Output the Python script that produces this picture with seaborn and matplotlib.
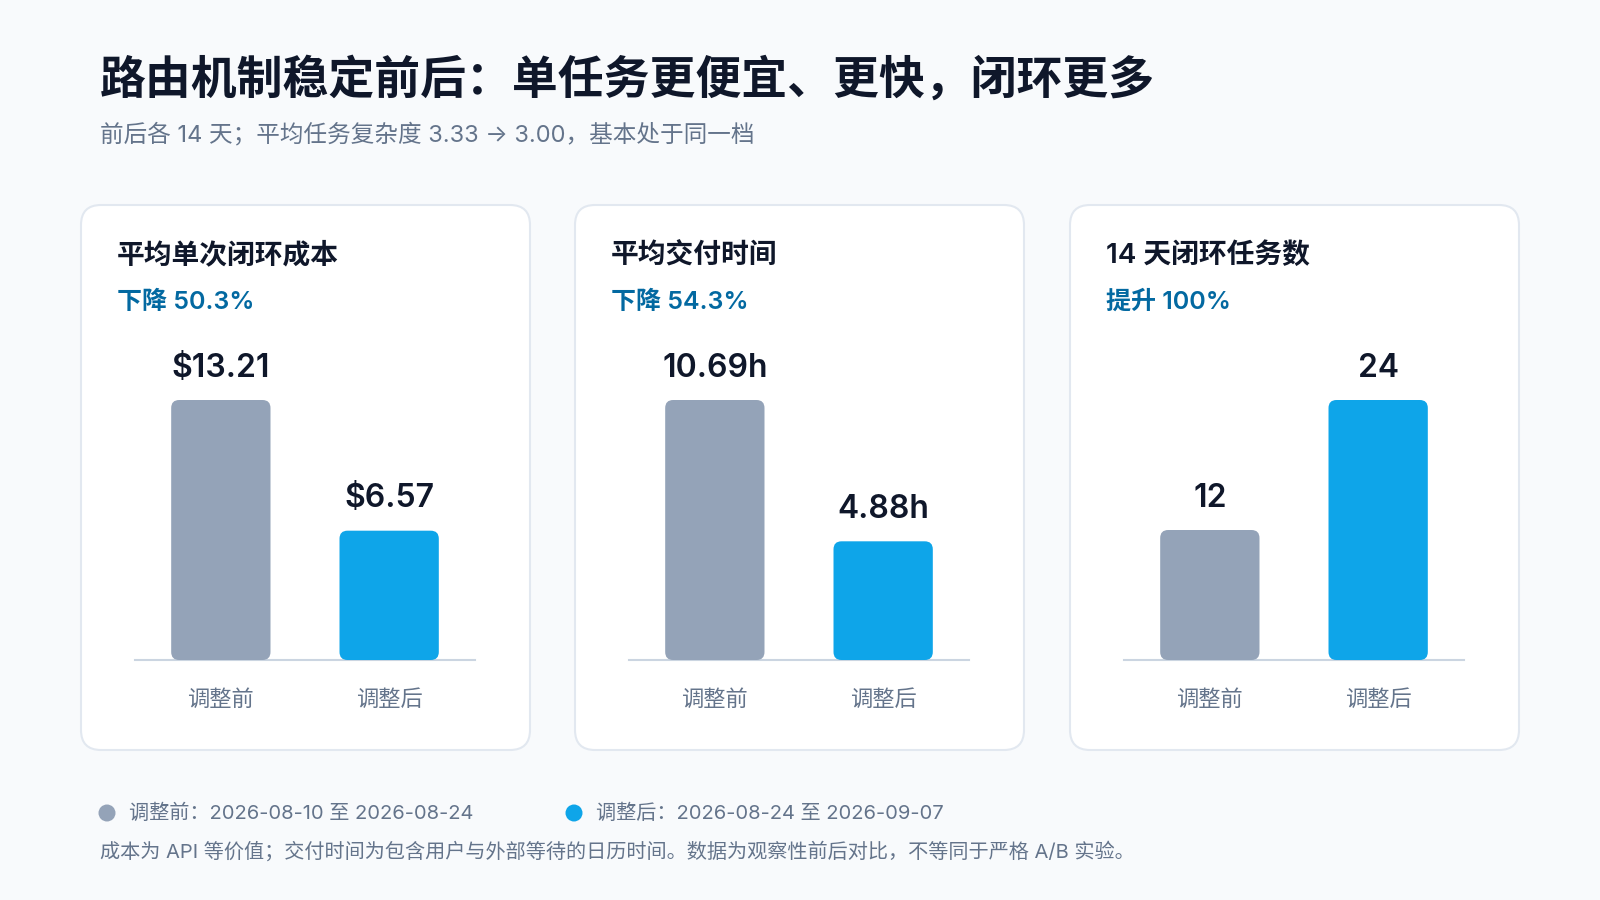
import numpy as np
import pandas as pd
import matplotlib
matplotlib.use("Agg")
import matplotlib.pyplot as plt
import seaborn as sns
from matplotlib.patches import FancyBboxPatch, Circle

# data
metrics = ["平均单次闭环成本", "平均交付时间", "14 天闭环任务数"]
changes = ["下降 50.3%", "下降 54.3%", "提升 100%"]
phases = ["调整前", "调整后"]
before = [13.21, 10.69, 12]
after = [6.57, 4.88, 24]
value_fmt = ["${:.2f}", "{:.2f}h", "{:.0f}"]

title = "路由机制稳定前后：单任务更便宜、更快，闭环更多"
subtitle = "前后各 14 天；平均任务复杂度 3.33 → 3.00，基本处于同一档"
legend_texts = ["调整前：2026-08-10 至 2026-08-24", "调整后：2026-08-24 至 2026-09-07"]
footnote = "成本为 API 等价值；交付时间为包含用户与外部等待的日历时间。数据为观察性前后对比，不等同于严格 A/B 实验。"

BG = "#f8fafc"
DARK = "#0f172a"
MUTED = "#64748b"
ACCENT = "#0369a1"
pal = ["#94a3b8", "#0ea5e9"]

sns.set_theme(style="white")
plt.rcParams["font.family"] = ["Inter", "Noto Sans CJK SC", "DejaVu Sans"]

W, H = 1600, 900
fig = plt.figure(figsize=(16, 9), dpi=100, facecolor=BG)


def px(x, y):
    # pixel (from top-left) -> figure fraction
    return x / W, 1 - y / H


fig.text(*px(100, 80), title, fontsize=33, fontweight="bold", color=DARK, va="center")
fig.text(*px(100, 135), subtitle, fontsize=17, color=MUTED, va="center")

card_left = [81, 575, 1070]
card_w, card_top, card_bot = 449, 205, 750
ax_h = 300
base_y = 660
bar_r = 8  # px

for i in range(3):
    cl = card_left[i]
    card = FancyBboxPatch((cl / 100, (H - card_bot) / 100), card_w / 100, (card_bot - card_top) / 100,
                          boxstyle="round,pad=0,rounding_size=0.2",
                          transform=fig.dpi_scale_trans, facecolor="white",
                          edgecolor="#e2e8f0", linewidth=1.5, zorder=0)
    fig.add_artist(card)
    fig.text(*px(cl + 36, 256), metrics[i], fontsize=20, fontweight="semibold", color=DARK, va="center")
    fig.text(*px(cl + 36, 302), changes[i], fontsize=18, fontweight="semibold", color=ACCENT, va="center")

    df = pd.DataFrame({"phase": phases, "value": [before[i], after[i]]})
    ax_w = 340
    x0, y0 = px(cl + 54, base_y)
    ax = fig.add_axes([x0, y0, ax_w / W, ax_h / H])
    ax.set_facecolor("none")
    sns.barplot(data=df, x="phase", y="value", hue="phase", palette=pal,
                width=0.59, legend=False, ax=ax, saturation=1)
    xlim = (-0.51, 1.51)
    ylim = (0, max(df["value"]) * ax_h / 260)
    ax.set_xlim(*xlim)
    ax.set_ylim(*ylim)

    # swap bars for rounded ones
    ppx = ax_w / (xlim[1] - xlim[0])
    ppy = ax_h / (ylim[1] - ylim[0])
    for p in list(ax.patches):
        bx, by, bw, bh = p.get_x(), p.get_y(), p.get_width(), p.get_height()
        fc = p.get_facecolor()
        p.remove()
        rb = FancyBboxPatch((bx, by), bw, bh,
                            boxstyle="round,pad=0,rounding_size=%f" % (bar_r / ppx),
                            mutation_aspect=ppx / ppy, facecolor=fc, edgecolor="none", zorder=3)
        ax.add_patch(rb)
        ax.annotate(value_fmt[i].format(by + bh), (bx + bw / 2, by + bh),
                    xytext=(0, 23), textcoords="offset points", ha="center", va="center",
                    fontsize=23, fontweight="semibold", color=DARK)

    sns.despine(ax=ax, left=True)
    ax.spines["bottom"].set_color("#cbd5e1")
    ax.spines["bottom"].set_linewidth(1.5)
    ax.set_yticks([])
    ax.set_xlabel("")
    ax.set_ylabel("")
    ax.tick_params(axis="x", length=0, pad=21, labelsize=16, labelcolor=MUTED)

# legend
for j, (lx, txt) in enumerate(zip([107, 574], legend_texts)):
    fig.add_artist(Circle((lx / 100, (H - 813) / 100), 0.085, transform=fig.dpi_scale_trans,
                          facecolor=pal[j], edgecolor="none"))
    fig.text(*px(lx + 22, 813), txt, fontsize=14.5, color=MUTED, va="center")

fig.text(*px(100, 851), footnote, fontsize=14.5, color=MUTED, va="center")

fig.savefig("out.png", dpi=100, facecolor=BG)
